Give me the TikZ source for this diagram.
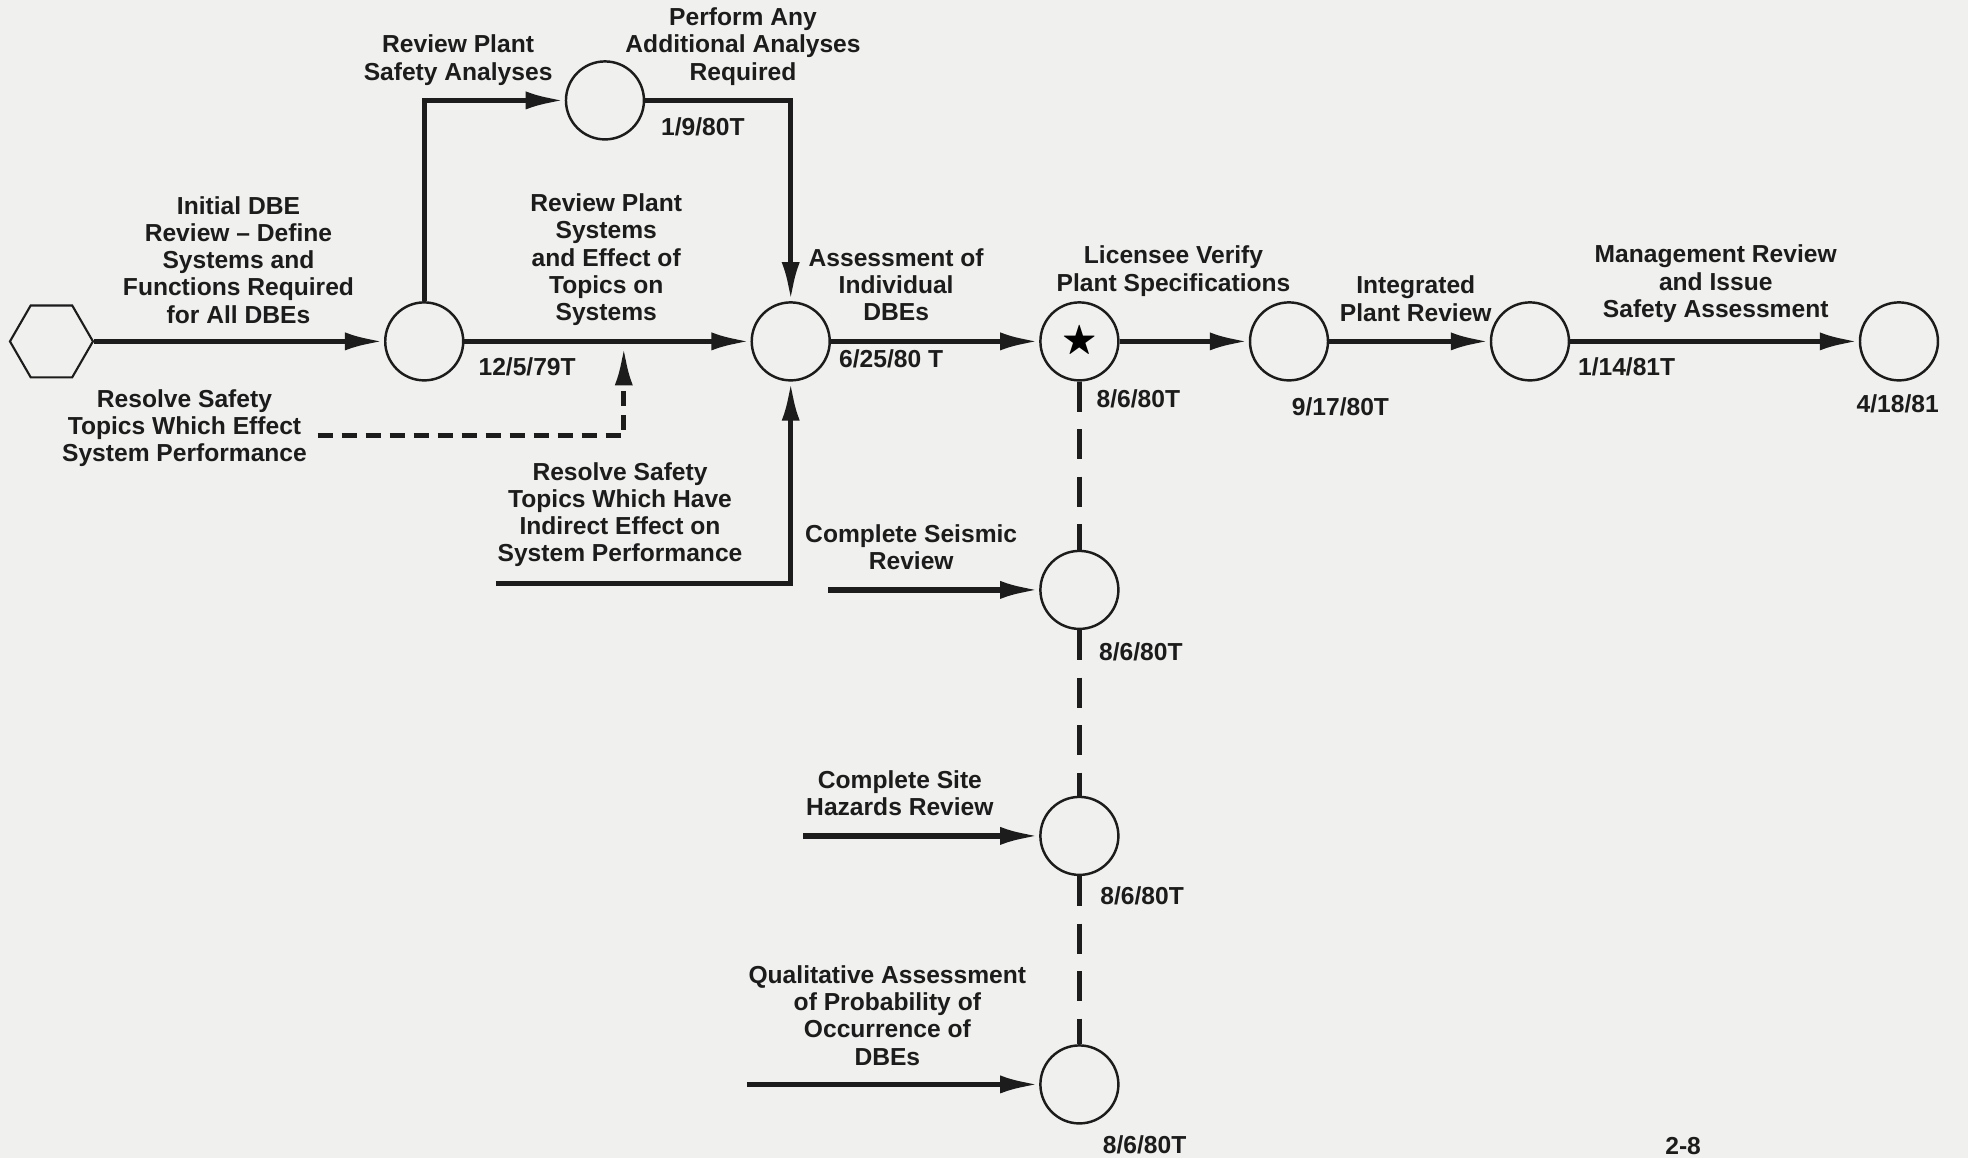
\documentclass[tikz,border=0pt]{standalone}
\usepackage{fontspec}
\setmainfont{Liberation Sans}
\usepackage{amssymb}
\usepackage{tikz}
\usetikzlibrary{positioning,arrows.meta,shapes.geometric}
\definecolor{paper}{RGB}{240,240,238}
\definecolor{ink}{RGB}{28,28,28}

\begin{document}
\begin{tikzpicture}[
    x=0.25102mm, y=-0.25102mm,
    font=\fontsize{14}{15.5}\selectfont\bfseries,
    event/.style={draw=ink, circle, line width=1.4pt, minimum size=15.6mm, inner sep=0pt},
    startev/.style={draw=ink, regular polygon, regular polygon sides=6, line width=1.2pt,
                    minimum size=16.6mm, inner sep=0pt},
    lbl/.style={align=center, text=ink},
    date/.style={text=ink},
    arr/.style={-{Latex[length=7.8mm,width=3.6mm]}, line width=3pt, draw=ink},
    darr/.style={arr, dash pattern=on 3mm off 1.8mm},
    dline/.style={line width=3pt, draw=ink, dash pattern=on 6mm off 3.5mm},
]
% page in display units: 1568 x 923, y grows downwards
\fill[paper] (0,0) rectangle (1568,923);
\useasboundingbox (0,0) rectangle (1568,923);

% ---------------- events on the main line ----------------
\node[startev] (start) at (41,272) {};
\node[event] (rev) at (338,272) {};
\node[event] (add) at (482,80) {};
\node[event] (dbe) at (630,272) {};
\node[event] (lic) at (860,272) {\huge$\bigstar$};
\node[event] (spec) at (1027,272) {};
\node[event] (integ) at (1219,272) {};
\node[event] (final) at (1513,272) {};

% ---------------- events below the star ----------------
\node[event] (seis) at (860,470) {};
\node[event] (site) at (860,666) {};
\node[event] (prob) at (860,864) {};

% ---------------- activity labels ----------------
\node[lbl] (initlbl) at (190,207) {Initial DBE\\Review -- Define\\Systems and\\Functions Required\\for All DBEs};
\node[lbl] (safelbl) at (365,48) {Review Plant\\Safety Analyses};
\node[lbl] (addlbl) at (592,37) {Perform Any\\Additional Analyses\\Required};
\node[lbl] (syslbl) at (483,207) {Review Plant\\Systems\\and Effect of\\Topics on\\Systems};
\node[lbl] (assesslbl) at (714,227) {Assessment of\\Individual\\DBEs};
\node[lbl] (verifylbl) at (935,216) {Licensee Verify\\Plant Specifications};
\node[lbl] (integlbl) at (1128,238) {Integrated\\Plant Review};
\node[lbl] (mgmtlbl) at (1367,226) {Management Review\\and Issue\\Safety Assessment};
\node[lbl] (effectlbl) at (147,341) {Resolve Safety\\Topics Which Effect\\System Performance};
\node[lbl] (indirectlbl) at (494,410) {Resolve Safety\\Topics Which Have\\Indirect Effect on\\System Performance};
\node[lbl] (seislbl) at (726,436) {Complete Seismic\\Review};
\node[lbl] (sitelbl) at (717,632) {Complete Site\\Hazards Review};
\node[lbl] (problbl) at (707,809) {Qualitative Assessment\\of Probability of\\Occurrence of\\DBEs};

% ---------------- dates ----------------
\node[date] (d1) at (420,292) {12/5/79T};
\node[date] (d2) at (560,101) {1/9/80T};
\node[date] (d3) at (710,286) {6/25/80 T};
\node[date] (d4) at (907,318) {8/6/80T};
\node[date] (d5) at (1068,324) {9/17/80T};
\node[date] (d6) at (1296,292) {1/14/81T};
\node[date] (d7) at (1512,322) {4/18/81};
\node[date] (d8) at (909,519) {8/6/80T};
\node[date] (d9) at (910,714) {8/6/80T};
\node[date] (d10) at (912,912) {8/6/80T};
\node[date] (page) at (1341,913) {2-8};

% ---------------- free ends ----------------
\coordinate (effstart) at (253,347);
\coordinate (effjoin) at (497,276);
\coordinate (indstart) at (395,465);
\coordinate (seisstart) at (660,470);
\coordinate (sitestart) at (640,666);
\coordinate (probstart) at (595,864);

% ---------------- connectors ----------------
\draw[arr] (start) -- (rev);
\draw[arr] (rev) -- (dbe);
\draw[arr] (rev.north) |- (add);
\draw[arr] (add) -| (dbe.north);
\draw[darr] (effstart) -| (effjoin);
\draw[arr] (indstart) -| (dbe.south);
\draw[arr] (dbe) -- (lic);
\draw[arr] (lic) -- (spec);
\draw[arr] (spec) -- (integ);
\draw[arr] (integ) -- (final);
\draw[dline] (lic) -- (seis);
\draw[dline] (seis) -- (site);
\draw[dline] (site) -- (prob);
\draw[arr] (seisstart) -- (seis);
\draw[arr] (sitestart) -- (site);
\draw[arr] (probstart) -- (prob);
\end{tikzpicture}
\end{document}
